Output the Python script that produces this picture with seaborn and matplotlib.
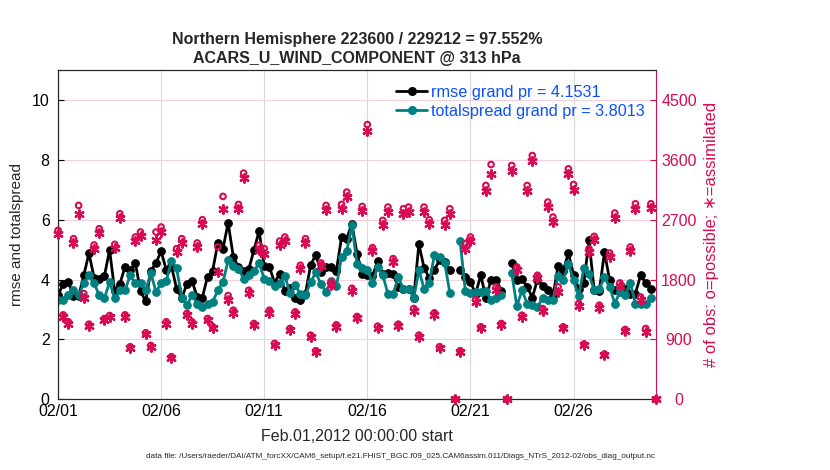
import numpy as np
import pandas as pd
import seaborn as sns
import matplotlib.pyplot as plt
import matplotlib.dates as mdates
from matplotlib.lines import Line2D

# 6-hourly values, 2012-02-01 00Z .. 2012-03-01 00Z (nan = no obs)
rmse = [3.48, 3.85, 3.92, 3.45, 3.45, 4.14, 4.88, 4.06, 4.02, 4.12,
        4.99, 3.62, 3.86, 4.42, 4.33, 4.55, 3.62, 3.27, 4.30, 4.55,
        4.95, 4.32, 4.45, 3.70, 3.38, 3.86, 3.95, 3.42, 3.40, 4.10,
        4.30, 5.22, 5.03, 5.90, 4.76, 4.42, 4.30, 4.35, 4.98, 5.62,
        4.46, 4.42, 3.90, 4.20, 3.62, 3.72, 3.40, 3.33, 3.53, 4.48,
        4.83, 4.25, 4.42, 4.42, 4.30, 5.42, 5.37, 5.86, 4.87, 4.20,
        4.14, 4.12, 4.62, 4.18, 4.22, 4.18, 3.76, 3.70, 3.70, 3.40,
        5.18, 4.40, 4.05, 4.33, 4.64, 4.60, 4.33, np.nan, 4.31, 4.09,
        3.92, 3.53, 4.14, 3.40, 3.98, 4.00, 3.62, np.nan, 4.56, 4.00,
        4.03, 3.76, 3.40, 4.00, 3.80, 3.65, 3.45, 4.44, 4.30, 4.89,
        4.15, 3.70, 3.90, 5.31, 3.65, 3.62, 4.92, 3.98, 3.65, 3.65,
        3.68, 3.53, 3.53, 4.14, 3.90, 3.68, np.nan]
spread = [3.31, 3.31, 3.48, 3.64, 3.48, 3.87, 4.14, 3.87, 3.48, 3.37,
          3.92, 3.37, 3.64, 3.64, 4.14, 3.87, 3.87, 3.64, 4.22, 3.59,
          3.87, 3.96, 4.62, 4.37, 3.40, 3.14, 3.48, 3.20, 3.07, 3.20,
          3.26, 3.64, 3.92, 4.64, 4.44, 4.35, 4.03, 4.14, 4.28, 4.55,
          4.03, 3.94, 3.78, 3.90, 4.12, 3.56, 3.81, 3.52, 3.48, 3.92,
          4.24, 3.84, 3.60, 3.95, 3.77, 4.76, 4.95, 5.81, 4.51, 4.37,
          4.33, 3.89, 4.42, 4.14, 3.53, 3.53, 4.07, 3.70, 3.70, 3.37,
          4.31, 3.70, 3.89, 4.81, 4.76, 4.56, 3.56, np.nan, 5.29, 3.62,
          3.56, 3.58, 3.58, 3.62, 3.33, 3.40, 3.48, np.nan, 4.22, 3.11,
          3.64, 3.20, 3.14, 3.07, 3.40, 3.33, 3.33, 4.11, 3.98, 4.51,
          3.98, 3.44, 4.40, 4.18, 3.64, 3.70, 4.07, 3.75, 3.20, 3.59,
          3.48, 3.90, 3.20, 3.20, 3.20, 3.37, np.nan]
n_possible = [2540, 1270, 1165, 2415, 2915, 1590, 1130, 2320, 2565, 1215,
              1260, 2330, 2790, 1270, 790, 2440, 2515, 1000, 810, 2515,
              2590, 1165, 640, 2265, 2415, 1290, 1165, 2350, 2700, 1215,
              1090, 2290, 3050, 1560, 1340, 2930, 3400, 1640, 1140, 2315,
              2265, 1340, 840, 2380, 2440, 1065, 1315, 2015, 2415, 965,
              730, 2050, 2915, 1765, 1120, 2930, 3115, 1670, 1245, 2900,
              4130, 2280, 1100, 2690, 2890, 2115, 1130, 2865, 2890, 1365,
              965, 2890, 2700, 1300, 790, 2690, 2865, 0, 730, 2340,
              2440, 1500, 1090, 3215, 3530, 1690, 1140, 0, 3515, 1990,
              1265, 3215, 3665, 1865, 1365, 2965, 2740, 1690, 1090, 3465,
              3230, 1440, 830, 2265, 2450, 1415, 680, 2200, 2800, 1750,
              1050, 2290, 2940, 1540, 1065, 2940, 0]
n_used = [2480, 1240, 1135, 2350, 2780, 1520, 1100, 2265, 2500, 1185,
          1230, 2275, 2720, 1240, 770, 2380, 2455, 975, 790, 2400,
          2515, 1135, 625, 2210, 2355, 1260, 1135, 2290, 2635, 1185,
          1065, 1915, 2865, 1500, 1305, 2860, 3320, 1600, 1110, 2240,
          2190, 1305, 820, 2320, 2380, 1040, 1280, 1965, 2355, 940,
          710, 2000, 2845, 1720, 1090, 2860, 3040, 1630, 1215, 2830,
          4040, 2225, 1075, 2625, 2820, 2065, 1100, 2790, 2820, 1330,
          940, 2820, 2635, 1270, 770, 2625, 2790, 0, 710, 2265,
          2380, 1465, 1065, 3135, 3390, 1650, 1110, 0, 3430, 1940,
          1235, 3135, 3575, 1820, 1330, 2890, 2670, 1615, 1065, 3380,
          3150, 1405, 810, 2210, 2390, 1380, 665, 2145, 2730, 1705,
          1025, 2235, 2865, 1500, 1015, 2870, 0]
tick_dates = ['2012-02-01', '2012-02-06', '2012-02-11', '2012-02-16',
              '2012-02-21', '2012-02-26']
rmse_label = 'rmse grand pr = 4.1531'
spread_label = 'totalspread grand pr = 3.8013'

obs_color = '#D70A53'
teal = '#008080'

times = pd.date_range('2012-02-01 00:00', periods=len(rmse), freq='6h')
df = pd.DataFrame({'time': times, 'rmse': rmse, 'spread': spread,
                   'possible': n_possible, 'used': n_used})
# break the lines where there are no observations
df['seg'] = df['rmse'].isna().cumsum()
good = df.dropna(subset=['rmse'])

sns.set_style('white')
plt.rcParams['font.family'] = ['Liberation Sans', 'DejaVu Sans']

fig = plt.figure(figsize=(8.3, 4.7), dpi=100)
ax = fig.add_axes([0.0699, 0.1504, 0.7205, 0.7006])

sns.lineplot(data=good, x='time', y='rmse', units='seg', estimator=None,
             color='k', lw=2, marker='o', markersize=5.5, markeredgecolor='k',
             ax=ax, legend=False, zorder=3)
sns.lineplot(data=good, x='time', y='spread', units='seg', estimator=None,
             color=teal, lw=2, marker='o', markersize=5.5, markeredgecolor=teal,
             ax=ax, legend=False, zorder=3)

ax.set_xlim(pd.Timestamp('2012-02-01'), pd.Timestamp('2012-03-01'))
ax.set_ylim(0, 11)
ax.set_yticks(range(0, 11, 2))
ax.set_xticks(pd.to_datetime(tick_dates))
ax.xaxis.set_major_formatter(mdates.DateFormatter('%m/%d'))
ax.grid(axis='x', color='#d8d8d8', lw=0.8)
ax.grid(axis='y', color='#f3d0dc', lw=0.8)
ax.tick_params(direction='in', length=4, labelsize=11.5, colors='k')
ax.tick_params(axis='y', pad=6)
ax.set_ylabel('rmse and totalspread', fontsize=11, labelpad=6)
ax.set_xlabel('Feb.01,2012 00:00:00 start', fontsize=11.5, labelpad=7)
ax.set_title('Northern Hemisphere 223600 / 229212 = 97.552%\n'
             'ACARS_U_WIND_COMPONENT @ 313 hPa',
             fontsize=11.5, fontweight='bold', linespacing=1.35, pad=5)
for s in ax.spines.values():
    s.set_color('k')
    s.set_linewidth(0.8)

ax2 = ax.twinx()
sns.scatterplot(data=df, x='time', y='possible', marker='o', s=16,
                facecolor='none', edgecolor=obs_color, linewidth=1.5,
                ax=ax2, clip_on=False, zorder=4)
sns.scatterplot(data=df, x='time', y='used', marker=(6, 2, 0), s=38,
                color=obs_color, linewidth=1.6,
                ax=ax2, clip_on=False, zorder=4)
ax2.set_ylim(0, 4950)
ax2.set_yticks(range(0, 4501, 900))
ax2.set_xlim(pd.Timestamp('2012-02-01'), pd.Timestamp('2012-03-01'))
ax2.tick_params(axis='y', direction='in', length=4, labelsize=11.5,
                colors=obs_color, pad=16.5)
for lab in ax2.get_yticklabels():
    lab.set_horizontalalignment('center')
ax2.set_ylabel('# of obs: o=possible; \u2217=assimilated', color=obs_color,
               fontsize=12, labelpad=5)
ax2.set_xlabel('')
ax2.spines['right'].set_color(obs_color)
ax2.spines['right'].set_linewidth(0.8)
ax.spines['right'].set_visible(False)

handles = [Line2D([], [], color='k', lw=2, marker='o', markersize=5.5),
           Line2D([], [], color=teal, lw=2, marker='o', markersize=5.5)]
leg = ax2.legend(handles, [rmse_label, spread_label], loc='upper left',
                 bbox_to_anchor=(0.566, 0.955), frameon=False, fontsize=11.7,
                 handlelength=1.85, handletextpad=0.25, borderpad=0,
                 borderaxespad=0, labelspacing=0.25, labelcolor='#0a50ff')

fig.text(400 / 830, 1 - 457 / 470,
         'data file: /Users/raeder/DAI/ATM_forcXX/CAM6_setup/f.e21.FHIST_BGC.'
         'f09_025.CAM6assim.011/Diags_NTrS_2012-02/obs_diag_output.nc',
         fontsize=5.9, ha='center', va='center')

fig.savefig('out.png', dpi=100)
